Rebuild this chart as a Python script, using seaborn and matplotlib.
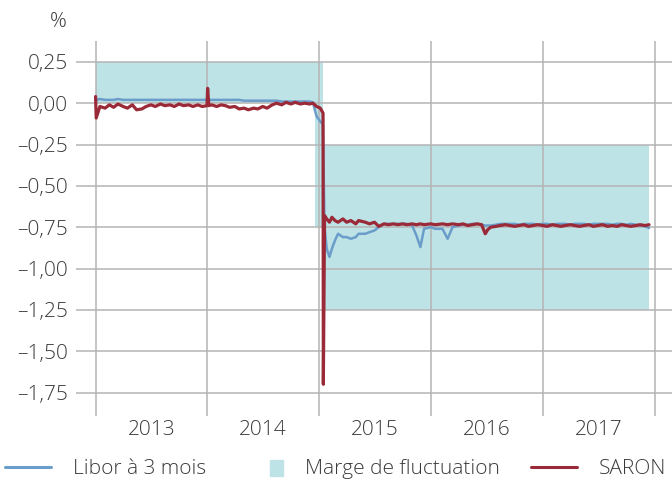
import matplotlib
matplotlib.use("Agg")
import matplotlib.pyplot as plt
import matplotlib.patches as mpatches
from matplotlib.legend_handler import HandlerPatch
from matplotlib.lines import Line2D
import pandas as pd
import seaborn as sns

# Données
dates = [
    "2013-01-01", "2013-01-03", "2013-01-15", "2013-02-01", "2013-02-15", "2013-03-01",
    "2013-03-15", "2013-04-01", "2013-04-15", "2013-05-01", "2013-05-15", "2013-06-01",
    "2013-06-15", "2013-07-01", "2013-07-15", "2013-08-01", "2013-08-15", "2013-09-01",
    "2013-09-15", "2013-10-01", "2013-10-15", "2013-11-01", "2013-11-15", "2013-12-01",
    "2013-12-15", "2013-12-31", "2014-01-02", "2014-01-06", "2014-01-15", "2014-02-01",
    "2014-02-15", "2014-03-01", "2014-03-15", "2014-04-01", "2014-04-15", "2014-05-01",
    "2014-05-15", "2014-06-01", "2014-06-15", "2014-07-01", "2014-07-15", "2014-08-01",
    "2014-08-15", "2014-09-01", "2014-09-15", "2014-10-01", "2014-10-15", "2014-11-01",
    "2014-11-15", "2014-12-01", "2014-12-12", "2014-12-18", "2014-12-24", "2015-01-05",
    "2015-01-14", "2015-01-15", "2015-01-19", "2015-01-26", "2015-02-04", "2015-02-12",
    "2015-02-22", "2015-03-04", "2015-03-20", "2015-04-01", "2015-04-15", "2015-05-01",
    "2015-05-10", "2015-06-01", "2015-06-15", "2015-07-01", "2015-07-15", "2015-08-01",
    "2015-08-15", "2015-09-01", "2015-09-15", "2015-10-01", "2015-10-15", "2015-11-01",
    "2015-11-15", "2015-11-28", "2015-12-10", "2016-01-01", "2016-01-15", "2016-02-08",
    "2016-02-25", "2016-03-12", "2016-04-01", "2016-04-15", "2016-05-01", "2016-05-15",
    "2016-06-01", "2016-06-15", "2016-06-27", "2016-07-05", "2016-07-15", "2016-08-01",
    "2016-08-15", "2016-09-01", "2016-09-15", "2016-10-01", "2016-10-15", "2016-11-01",
    "2016-11-15", "2016-12-01", "2016-12-15", "2017-01-01", "2017-01-15", "2017-02-01",
    "2017-02-15", "2017-03-01", "2017-03-15", "2017-04-01", "2017-04-15", "2017-05-01",
    "2017-05-15", "2017-06-01", "2017-06-15", "2017-07-01", "2017-07-15", "2017-08-01",
    "2017-08-15", "2017-09-01", "2017-09-15", "2017-10-01", "2017-10-15", "2017-11-01",
    "2017-11-15", "2017-12-01", "2017-12-14",
]

libor = [
    0.020, 0.020, 0.025, 0.020, 0.020, 0.020,
    0.025, 0.020, 0.020, 0.020, 0.020, 0.020,
    0.020, 0.020, 0.020, 0.020, 0.020, 0.020,
    0.020, 0.020, 0.020, 0.020, 0.020, 0.020,
    0.020, 0.020, 0.020, 0.020, 0.020, 0.020,
    0.020, 0.020, 0.020, 0.020, 0.020, 0.015,
    0.015, 0.015, 0.015, 0.015, 0.015, 0.015,
    0.015, 0.010, 0.010, 0.010, 0.010, 0.010,
    0.010, 0.010, 0.005, -0.040, -0.080, -0.110,
    -0.130, -0.300, -0.750, -0.880, -0.930, -0.880,
    -0.830, -0.790, -0.810, -0.810, -0.820, -0.810,
    -0.790, -0.790, -0.780, -0.770, -0.750, -0.730,
    -0.730, -0.730, -0.730, -0.730, -0.730, -0.740,
    -0.800, -0.870, -0.760, -0.750, -0.760, -0.760,
    -0.820, -0.750, -0.740, -0.735, -0.735, -0.730,
    -0.730, -0.735, -0.740, -0.740, -0.740, -0.735,
    -0.730, -0.730, -0.730, -0.730, -0.735, -0.730,
    -0.730, -0.730, -0.735, -0.730, -0.730, -0.735,
    -0.730, -0.730, -0.730, -0.735, -0.730, -0.730,
    -0.730, -0.735, -0.730, -0.730, -0.730, -0.730,
    -0.735, -0.730, -0.730, -0.735, -0.730, -0.735,
    -0.740, -0.745, -0.755,
]

saron = [
    0.040, -0.090, -0.020, -0.030, -0.010, -0.025,
    -0.005, -0.020, -0.030, -0.010, -0.040, -0.035,
    -0.020, -0.010, -0.020, -0.005, -0.015, -0.010,
    -0.020, -0.005, -0.015, -0.010, -0.020, -0.010,
    -0.020, -0.015, 0.090, -0.015, -0.010, -0.020,
    -0.010, -0.015, -0.025, -0.020, -0.035, -0.030,
    -0.040, -0.030, -0.035, -0.020, -0.030, -0.010,
    0.000, -0.010, 0.005, -0.005, 0.005, -0.005,
    0.000, -0.005, 0.000, -0.010, -0.020, -0.030,
    -0.060, -1.700, -0.680, -0.700, -0.720, -0.690,
    -0.710, -0.720, -0.700, -0.720, -0.710, -0.730,
    -0.710, -0.720, -0.730, -0.720, -0.745, -0.730,
    -0.735, -0.730, -0.735, -0.730, -0.735, -0.730,
    -0.735, -0.730, -0.735, -0.730, -0.735, -0.730,
    -0.735, -0.730, -0.735, -0.730, -0.740, -0.735,
    -0.730, -0.735, -0.790, -0.765, -0.750, -0.745,
    -0.740, -0.735, -0.740, -0.745, -0.740, -0.735,
    -0.745, -0.740, -0.735, -0.740, -0.745, -0.735,
    -0.740, -0.745, -0.740, -0.735, -0.740, -0.745,
    -0.740, -0.735, -0.745, -0.740, -0.735, -0.745,
    -0.740, -0.745, -0.735, -0.740, -0.745, -0.740,
    -0.735, -0.740, -0.735,
]

# Marge de fluctuation de la BNS (bornes en escalier)
band_dates = ["2013-01-01", "2014-12-18", "2015-01-15", "2017-12-14"]
band_low = [0.00, -0.75, -1.25, -1.25]
band_high = [0.25, 0.25, -0.25, -0.25]

years = [2013, 2014, 2015, 2016, 2017]
y_ticks = [0.25, 0.0, -0.25, -0.5, -0.75, -1.0, -1.25, -1.5, -1.75]

C_LIBOR = "#6b9dca"
C_SARON = "#9b2a39"
C_BAND = "#bde3e6"
C_GRID = "#b4b4b4"
C_TEXT = "#3a3a3a"
FS = 15

sns.set_theme(style="white")
plt.rcParams["font.family"] = ["Open Sans", "DejaVu Sans"]
plt.rcParams["font.weight"] = "light"

df = pd.DataFrame({"date": pd.to_datetime(dates), "libor": libor, "saron": saron})
bd = pd.to_datetime(band_dates)

fig = plt.figure(figsize=(6.72, 4.79), dpi=100)
ax = fig.add_axes([76 / 672, 1 - 416 / 479, 1 - 76 / 672, (416 - 41) / 479])

ax.fill_between(bd, band_low, band_high, step="post", color=C_BAND, lw=0, zorder=1)
sns.lineplot(data=df, x="date", y="libor", color=C_LIBOR, linewidth=1.8, ax=ax, zorder=3)
sns.lineplot(data=df, x="date", y="saron", color=C_SARON, linewidth=2.3, ax=ax, zorder=4)

ax.set_xlim(pd.Timestamp("2012-10-29"), pd.Timestamp("2018-02-27"))
ax.set_ylim(-1.892, 0.376)

# ticks
ax.set_yticks(y_ticks)
ax.set_yticklabels([f"{v:.2f}".replace(".", ",").replace("-", "\u2013") for v in y_ticks])
ax.set_xticks([pd.Timestamp(f"{y}-07-02") for y in years])
ax.set_xticklabels([str(y) for y in years])
ax.set_xticks([pd.Timestamp(f"{y}-01-01") for y in years + [2018]], minor=True)
ax.tick_params(axis="both", which="both", length=0, labelsize=FS, colors=C_TEXT)
ax.tick_params(axis="y", pad=6)
ax.tick_params(axis="x", pad=3)

ax.grid(False)
ax.yaxis.grid(True, which="major", color=C_GRID, linewidth=1.1)
ax.xaxis.grid(True, which="minor", color=C_GRID, linewidth=1.1)
ax.set_axisbelow(False)
for s in ax.spines.values():
    s.set_visible(False)
ax.set_xlabel("")
ax.set_ylabel("")

fig.text(58 / 672, 1 - 22 / 479, "%", ha="center", va="center", fontsize=FS, color=C_TEXT)


def square_patch(legend, orig_handle, xdescent, ydescent, width, height, fontsize):
    # petit carré collé à droite de la boîte de la légende
    w, h = 10, 11
    return mpatches.Rectangle((-xdescent + width - w, -ydescent + (height - h) / 2 - 1), w, h)


handles = [
    Line2D([], [], color=C_LIBOR, linewidth=2.2),
    mpatches.Patch(color=C_BAND),
    Line2D([], [], color=C_SARON, linewidth=2.2),
]
labels = ["Libor à 3 mois", "Marge de fluctuation", "SARON"]
fig.legend(handles, labels, loc="center", bbox_to_anchor=(0.5, 1 - 469 / 479), ncol=3,
           frameon=False, fontsize=FS, handlelength=2.2, handletextpad=1.05,
           columnspacing=1.5, labelcolor=C_TEXT,
           handler_map={mpatches.Patch: HandlerPatch(patch_func=square_patch)})

fig.savefig("out.png", dpi=100)
